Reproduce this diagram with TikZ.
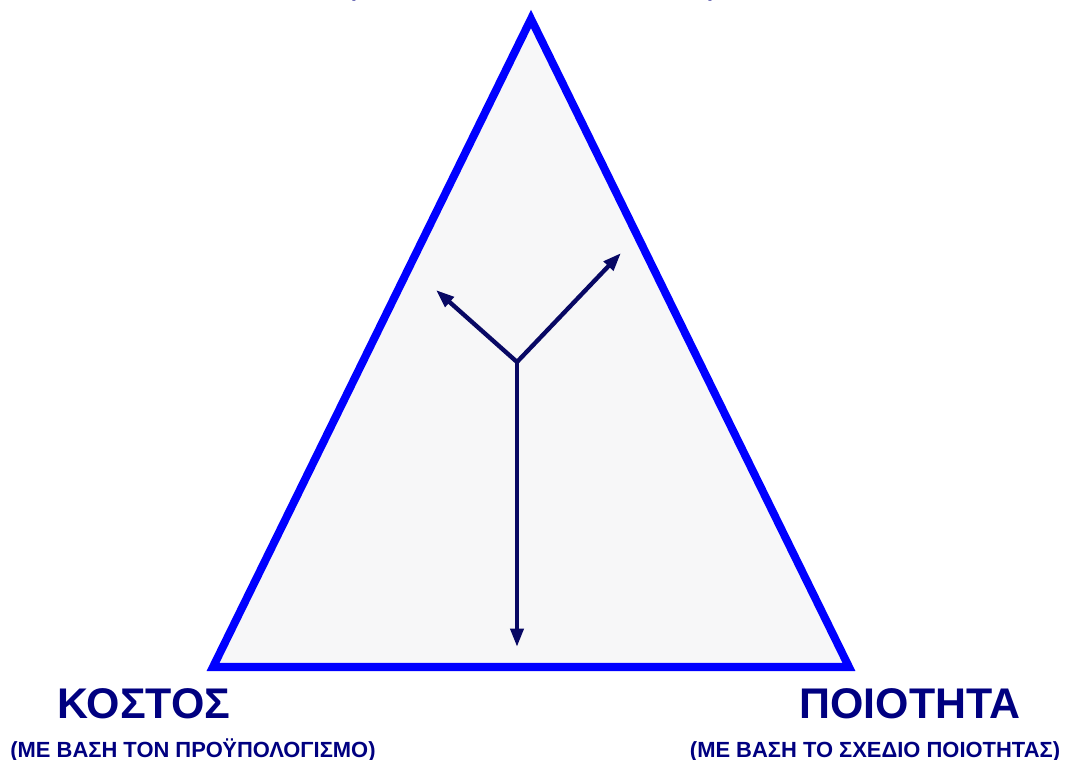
\documentclass[tikz,border=0pt]{standalone}
\usepackage{fontspec}
\setmainfont{Liberation Sans}
\usetikzlibrary{arrows.meta, positioning}
\definecolor{triblue}{RGB}{0,0,255}
\definecolor{labelnavy}{RGB}{0,0,128}
\definecolor{arrownavy}{RGB}{8,8,100}
\definecolor{trifill}{RGB}{247,247,248}

\begin{document}
\begin{tikzpicture}[x=0.025cm, y=-0.025cm,
    >={Triangle[length=13pt, width=9pt]},
    side/.style={triblue, line width=5.7pt, line join=miter, fill=trifill},
    pull/.style={->, arrownavy, line width=3.1pt},
    corner/.style={labelnavy, font=\fontsize{30.5}{32}\selectfont\bfseries, anchor=base, inner sep=0pt},
    basis/.style={labelnavy, font=\fontsize{15.6}{17}\selectfont\bfseries, anchor=base, inner sep=0pt}]
  \useasboundingbox (0,0) rectangle (1068,760);
  \clip (0,0) rectangle (1068,760);
  % Triangle corners
  \coordinate (apex) at (531,19);
  \coordinate (costcorner) at (213,667);
  \coordinate (qualcorner) at (849,667);
  \draw[side] (apex) -- (costcorner) -- (qualcorner) -- cycle;
  % Three pulls from one point
  \coordinate (hub) at (517,362);
  \coordinate (uptip) at (436,290);
  \coordinate (righttip) at (621,253);
  \coordinate (downtip) at (517,647);
  \draw[pull] (hub) -- (uptip);
  \draw[pull] (hub) -- (righttip);
  \draw[pull] (hub) -- (downtip);
  % Labels at the corners
  \node[basis] (timebasis) at (532,-3) {(ΜΕ ΒΑΣΗ ΤΟ ΧΡΟΝΟΔΙΑΓΡΑΜΜΑ)};
  \node[corner] (cost) at (144,719) {ΚΟΣΤΟΣ};
  \node[basis] (costbasis) at (193,757) {(ΜΕ ΒΑΣΗ ΤΟΝ ΠΡΟΫΠΟΛΟΓΙΣΜΟ)};
  \node[corner] (quality) at (910,719) {ΠΟΙΟΤΗΤΑ};
  \node[basis] (qualitybasis) at (875,757) {(ΜΕ ΒΑΣΗ ΤΟ ΣΧΕΔΙΟ ΠΟΙΟΤΗΤΑΣ)};
\end{tikzpicture}
\end{document}
